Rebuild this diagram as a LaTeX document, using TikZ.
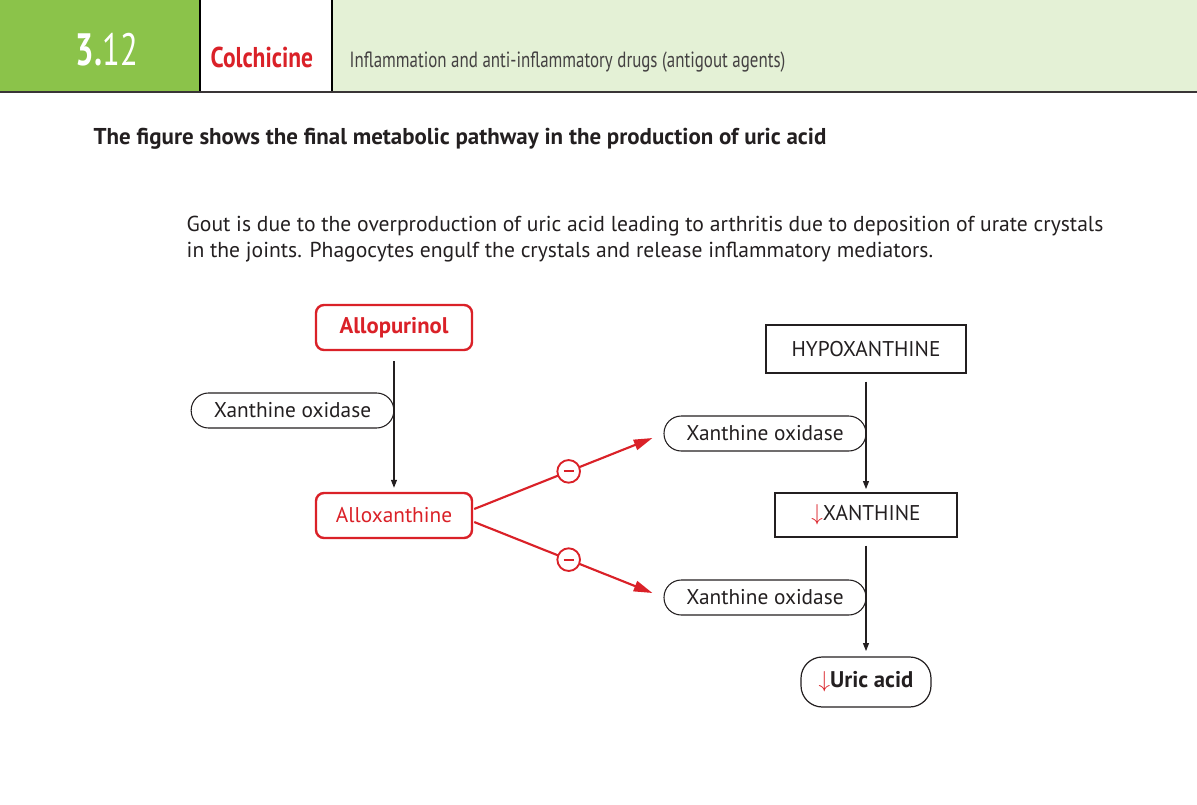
\documentclass[tikz,border=0pt]{standalone}
\usepackage{fontspec}
\usetikzlibrary{arrows.meta,calc}
\setmainfont{PT Sans}
\newfontfamily\condfont[FakeStretch=0.72]{PT Sans}
\newfontfamily\namefont[FakeStretch=0.82]{PT Sans}
\newfontfamily\topicfont[FakeStretch=0.77]{PT Sans}
\definecolor{headgreen}{RGB}{139,195,74}
\definecolor{palegreen}{RGB}{228,241,214}
\definecolor{drugred}{RGB}{218,33,40}
\definecolor{inkgray}{RGB}{35,31,32}
\newcommand{\lessarrow}{{\color{drugred}\mdseries\fontsize{19}{19}\selectfont$\downarrow$}}
\tikzset{
	redbox/.style={draw=drugred, text=drugred, line width=1.8pt, rounded corners=6pt, minimum width=117pt, minimum height=33.75pt, inner sep=0pt, font=\fontsize{16}{19}\selectfont},
	pillbox/.style={draw=inkgray, text=inkgray, line width=0.8pt, rounded corners=13pt, minimum height=26.25pt, inner sep=0pt, font=\fontsize{16}{19}\selectfont},
	plainbox/.style={draw=inkgray, text=inkgray, line width=0.9pt, inner sep=0pt, font=\fontsize{16}{19}\selectfont},
	flowarrow/.style={draw=inkgray, line width=0.8pt, -{Triangle[length=6pt,width=4.5pt]}},
	inhibarrow/.style={draw=drugred, line width=1.6pt, -{Triangle[length=14pt,width=8pt]}},
	inhib/.style={circle, draw=drugred, line width=1.4pt, fill=white, minimum size=17pt, inner sep=0pt, text=drugred}
}
\begin{document}
\begin{tikzpicture}[x=0.75pt, y=-0.75pt]
			\useasboundingbox (0,0) rectangle (1197,804);

			% Header band
			\fill[headgreen] (0,0) rectangle (199,92);
			\fill[white] (199,0) rectangle (332,92);
			\fill[palegreen] (332,0) rectangle (1197,92);
			\draw[black, line width=1.5pt] (200,0) -- (200,92);
			\draw[black, line width=1.5pt] (332,0) -- (332,92);
			\draw[inkgray!90, line width=2.2pt] (0,92) -- (1197,92);
			\node[anchor=base, text=white, font=\condfont\fontsize{34}{36}\selectfont] (chapter) at (107,65) {\textbf{3.}12};
			\node[anchor=base west, text=drugred, font=\namefont\bfseries\fontsize{21.5}{24}\selectfont] (drugname) at (206,67) {Colchicine};
			\node[anchor=base west, text=inkgray!85, font=\topicfont\fontsize{16.5}{18}\selectfont] (topic) at (345,67) {Inflammation and anti-inflammatory drugs (antigout agents)};

			% Title and text
			\node[anchor=base west, text=inkgray, font=\bfseries\fontsize{17.2}{20}\selectfont] (title) at (89,144) {The figure shows the final metabolic pathway in the production of uric acid};
			\node[anchor=base west, text=inkgray, font=\fontsize{16.2}{19}\selectfont] (lineone) at (182,231) {Gout is due to the overproduction of uric acid leading to arthritis due to deposition of urate crystals};
			\node[anchor=base west, text=inkgray, font=\fontsize{16.2}{19}\selectfont] (linetwo) at (182,257) {in the joints. Phagocytes engulf the crystals and release inflammatory mediators.};

			% Left pathway
			\node[redbox, font=\bfseries\fontsize{17}{19}\selectfont] (allopurinol) at (394,327.5) {Allopurinol};
			\node[redbox] (alloxanthine) at (394,515.5) {Alloxanthine};
			\node[pillbox, minimum width=152pt] (enzymeA) at (292.5,410.5) {Xanthine oxidase};
			\draw[flowarrow, shorten <=7.5pt, shorten >=3pt] (allopurinol.south) -- (alloxanthine.north);

			% Right pathway
			\node[plainbox, minimum width=150pt, minimum height=36pt] (hypoxanthine) at (866,349) {HYPOXANTHINE};
			\node[plainbox, minimum width=136.5pt, minimum height=33pt] (xanthine) at (866,515) {\lessarrow XANTHINE};
			\node[pillbox, line width=0.9pt, rounded corners=16pt, minimum width=97.5pt, minimum height=37.5pt, font=\bfseries\fontsize{17}{19}\selectfont] (uricacid) at (866,682) {\lessarrow Uric acid};
			\node[pillbox, minimum width=151.5pt] (enzymeB) at (765,433.5) {Xanthine oxidase};
			\node[pillbox, minimum width=151.5pt] (enzymeC) at (765,597.5) {Xanthine oxidase};
			\draw[flowarrow, shorten <=6pt, shorten >=2.5pt] (hypoxanthine.south) -- (xanthine.north);
			\draw[flowarrow, shorten <=6pt, shorten >=4pt] (xanthine.south) -- (uricacid.north);

			% Inhibition by alloxanthine
			\coordinate (hitB) at ($(enzymeB.west)+(-11,4.5)$);
			\coordinate (hitC) at ($(enzymeC.west)+(-11,-4.5)$);
			\draw[inhibarrow] ($(alloxanthine.east)+(1,-6.5)$) -- node[inhib, pos=0.53] (minusB) {\rule{7.5pt}{1.5pt}} (hitB);
			\draw[inhibarrow] ($(alloxanthine.east)+(1,6.5)$) -- node[inhib, pos=0.53] (minusC) {\rule{7.5pt}{1.5pt}} (hitC);
		\end{tikzpicture}
\end{document}
